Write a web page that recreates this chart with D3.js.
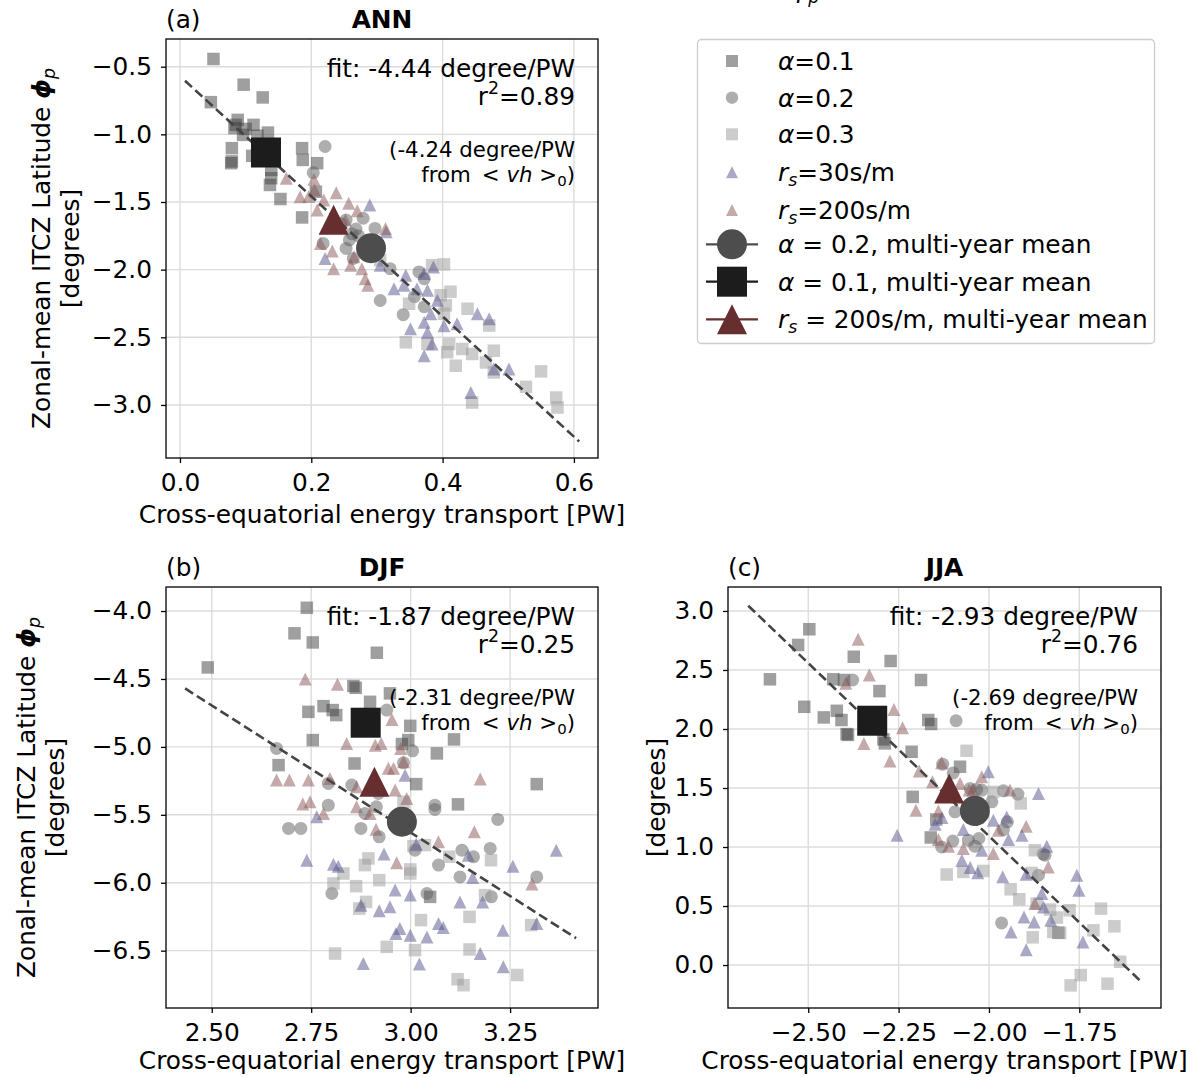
<!DOCTYPE html>
<html><head><meta charset="utf-8">
<script src="https://cdn.jsdelivr.net/npm/d3@7"></script>
<style>body{margin:0;background:#fff}</style>
</head><body>
<svg id="c" width="1200" height="1077" xmlns="http://www.w3.org/2000/svg"></svg>
<script>
// ---------------- DATA ----------------
// Panel (a) ANN
const annAlpha01 = [[0.051,-0.443],[0.097,-0.633],[0.126,-0.727],[0.047,-0.762],[0.088,-0.893],[0.083,-0.954],[0.085,-0.93],[0.112,-0.93],[0.134,-0.987],[0.096,-1.004],[0.079,-1.102],[0.078,-1.213],[0.079,-1.2],[0.11,-1.159],[0.139,-1.263],[0.137,-1.374],[0.139,-1.324],[0.153,-1.478],[0.186,-1.102],[0.187,-1.189],[0.209,-1.213],[0.207,-1.424],[0.186,-1.614],[0.1,-0.96],[0.118,-1.01]];
const annAlpha02 = [[0.221,-1.09],[0.203,-1.283],[0.253,-1.633],[0.279,-1.62],[0.297,-1.695],[0.258,-1.78],[0.253,-1.843],[0.264,-1.917],[0.218,-1.806],[0.272,-1.75],[0.262,-1.735],[0.32,-1.993],[0.364,-2.017],[0.305,-2.228],[0.34,-2.333],[0.357,-2.2],[0.372,-2.274],[0.372,-2.067],[0.245,-1.66],[0.268,-1.70]];
const annAlpha03 = [[0.305,-1.93],[0.384,-1.967],[0.402,-1.961],[0.412,-2.163],[0.397,-2.189],[0.405,-2.263],[0.349,-2.252],[0.438,-2.289],[0.471,-2.413],[0.402,-2.326],[0.344,-2.537],[0.377,-2.549],[0.41,-2.549],[0.407,-2.61],[0.43,-2.586],[0.445,-2.623],[0.478,-2.599],[0.466,-2.686],[0.478,-2.76],[0.42,-2.71],[0.55,-2.752],[0.527,-2.866],[0.573,-2.945],[0.575,-3.019],[0.445,-2.982]];
const annRs30 = [[0.289,-1.522],[0.314,-1.719],[0.221,-1.917],[0.305,-1.967],[0.344,-2.041],[0.372,-2.029],[0.386,-1.98],[0.326,-2.141],[0.341,-2.115],[0.361,-2.141],[0.377,-2.152],[0.392,-2.226],[0.382,-2.326],[0.372,-2.389],[0.351,-2.437],[0.377,-2.463],[0.422,-2.4],[0.453,-2.326],[0.471,-2.363],[0.384,-2.549],[0.372,-2.636],[0.478,-2.734],[0.501,-2.734],[0.443,-2.908],[0.402,-2.415]];
const annRs200 = [[0.162,-1.324],[0.204,-1.332],[0.183,-1.461],[0.205,-1.411],[0.238,-1.431],[0.219,-1.485],[0.209,-1.559],[0.257,-1.51],[0.27,-1.564],[0.252,-1.633],[0.313,-1.695],[0.214,-1.806],[0.232,-1.863],[0.265,-1.905],[0.26,-1.967],[0.234,-1.993],[0.277,-1.993],[0.282,-2.067],[0.286,-2.115],[0.196,-1.46]];
const annMeans = {a02:[0.291,-1.841], a01:[0.131,-1.135], r200:[0.234,-1.632]};
const annFit = {slope:-4.44, intercept:-0.57, xmin:0.0076, xmax:0.608, r2:'0.89', vh:'-4.24'};

// Panel (b) DJF
const djfAlpha01 = [[2.739,-3.976],[2.708,-4.164],[2.754,-4.231],[2.915,-4.307],[2.49,-4.415],[2.856,-4.552],[2.862,-4.565],[2.743,-4.742],[2.781,-4.70],[2.804,-4.729],[2.813,-4.766],[2.898,-4.668],[2.948,-4.606],[2.999,-4.845],[2.994,-4.95],[2.978,-4.979],[3.109,-4.945],[2.754,-4.95],[2.668,-5.134],[2.859,-5.122],[3.066,-5.048],[3.014,-5.274],[3.317,-5.274],[3.119,-5.423],[3.049,-6.104]];
const djfAlpha02 = [[2.94,-4.729],[3.005,-5.029],[2.663,-5.011],[2.982,-5.117],[2.793,-5.269],[2.852,-5.281],[2.919,-5.343],[2.793,-5.429],[2.914,-5.441],[2.885,-5.49],[3.061,-5.429],[3.061,-5.46],[2.693,-5.60],[2.724,-5.60],[2.875,-5.60],[2.921,-5.662],[3.219,-5.534],[3.011,-5.76],[3.07,-5.87],[3.129,-5.76],[3.158,-5.809],[3.20,-5.747],[3.124,-5.957],[3.317,-5.957],[2.802,-6.079],[3.041,-6.079],[3.203,-6.104]];
const djfAlpha03 = [[2.894,-5.821],[2.885,-5.87],[2.831,-5.932],[2.806,-6.005],[2.863,-6.025],[2.921,-5.981],[2.999,-5.902],[2.999,-5.932],[3.036,-5.723],[3.097,-5.809],[3.202,-5.834],[3.187,-6.091],[2.888,-6.141],[2.871,-6.19],[3.026,-6.275],[3.148,-6.251],[3.303,-6.312],[2.94,-6.472],[3.011,-6.496],[3.148,-6.491],[2.81,-6.521],[3.268,-6.68],[3.118,-6.71],[3.133,-6.754],[2.982,-5.404],[3.007,-5.73]];
const djfRs30 = [[2.986,-5.208],[2.764,-5.515],[2.739,-5.834],[2.806,-5.863],[2.818,-5.878],[2.933,-5.789],[3.014,-5.716],[3.145,-5.797],[3.156,-5.961],[3.257,-5.878],[3.366,-5.76],[2.961,-6.054],[2.999,-6.091],[2.875,-6.165],[2.921,-6.207],[2.948,-6.177],[3.124,-6.141],[3.181,-6.141],[2.973,-6.337],[2.963,-6.374],[2.999,-6.386],[3.041,-6.399],[3.07,-6.30],[3.082,-6.329],[3.232,-6.349],[3.317,-6.30],[3.175,-6.521],[2.881,-6.594],[3.022,-6.599],[3.233,-6.619]];
const djfRs200 = [[2.735,-4.501],[2.816,-4.538],[2.953,-4.798],[2.839,-4.975],[2.911,-4.987],[2.926,-4.975],[2.975,-5.011],[2.982,-5.11],[2.944,-5.158],[2.957,-5.158],[2.663,-5.244],[2.695,-5.244],[2.743,-5.244],[2.797,-5.232],[3.175,-5.237],[2.961,-5.318],[2.864,-5.294],[2.729,-5.421],[2.747,-5.404],[2.781,-5.49],[2.864,-5.441],[2.99,-5.379],[2.913,-5.607],[2.965,-5.853],[3.07,-5.699],[3.16,-5.625],[3.305,-6.01],[2.898,-5.49]];
const djfMeans = {a02:[2.978,-5.551], a01:[2.887,-4.822], r200:[2.909,-5.257]};
const djfFit = {slope:-1.87, intercept:-0.02, xmin:2.433, xmax:3.416, r2:'0.25', vh:'-2.31'};

// Panel (c) JJA
const jjaAlpha01 = [[-2.497,2.845],[-2.528,2.712],[-2.606,2.421],[-2.511,2.188],[-2.374,2.612],[-2.272,2.576],[-2.431,2.421],[-2.401,2.415],[-2.303,2.321],[-2.188,2.415],[-2.457,2.098],[-2.421,2.154],[-2.408,2.076],[-2.394,1.957],[-2.39,1.95],[-2.292,1.912],[-2.288,1.878],[-2.168,2.076],[-2.16,2.042],[-2.214,1.807],[-2.08,1.68],[-2.211,1.425],[-2.146,1.233],[-2.161,1.081],[-1.808,0.274]];
const jjaAlpha02 = [[-2.377,2.415],[-2.091,2.07],[-2.128,1.702],[-2.099,1.628],[-2.034,1.488],[-1.96,1.476],[-1.92,1.448],[-2.052,1.496],[-2.02,1.482],[-1.992,1.383],[-2.094,1.298],[-1.949,1.213],[-1.96,1.148],[-2.057,1.058],[-2.028,1.072],[-2.039,1.007],[-1.845,0.931],[-1.863,0.761],[-1.965,0.357],[-2.131,1.0],[-2.10,1.05],[-1.85,0.94]];
const jjaAlpha03 = [[-2.062,1.815],[-1.988,1.467],[-1.912,1.369],[-2.117,0.767],[-2.071,0.789],[-2.016,0.797],[-1.873,0.973],[-1.882,0.781],[-1.94,0.642],[-1.916,0.557],[-1.868,0.521],[-1.831,0.47],[-1.812,0.402],[-1.777,0.464],[-1.711,0.294],[-1.69,0.478],[-1.879,0.235],[-1.822,0.28],[-1.803,0.272],[-1.653,0.328],[-1.637,0.028],[-1.746,-0.085],[-1.774,-0.172],[-1.672,-0.158],[-2.03,1.25]];
const jjaRs30 = [[-2.002,1.637],[-1.863,1.454],[-2.254,1.10],[-2.149,1.193],[-2.071,1.148],[-1.988,1.227],[-1.951,1.255],[-1.946,1.064],[-1.909,1.10],[-2.02,0.973],[-2.075,0.888],[-2.052,0.826],[-2.031,0.781],[-1.962,0.747],[-1.897,0.77],[-1.84,1.007],[-1.757,0.761],[-1.751,0.634],[-1.854,0.606],[-1.849,0.492],[-1.903,0.407],[-1.875,0.365],[-1.829,0.379],[-1.939,0.28],[-1.897,0.13],[-1.74,0.195],[-2.13,1.25]];
const jjaRs200 = [[-2.362,2.76],[-2.331,2.457],[-2.396,2.387],[-2.263,2.166],[-2.239,2.01],[-2.346,1.878],[-2.274,1.728],[-2.193,1.645],[-2.131,1.713],[-2.055,1.482],[-2.02,1.595],[-1.942,1.482],[-2.156,1.552],[-2.202,1.312],[-2.14,1.306],[-2.08,1.539],[-2.045,1.482],[-2.14,1.064],[-2.112,1.007],[-2.071,0.988],[-1.988,0.945],[-1.974,1.142],[-1.897,1.176],[-1.836,0.831],[-1.873,0.521]];
const jjaMeans = {a02:[-2.039,1.306], a01:[-2.323,2.07], r200:[-2.11,1.496]};
const jjaFit = {slope:-2.93, intercept:-4.767, xmin:-2.666, xmax:-1.577, r2:'0.76', vh:'-2.69'};

// Tick labels
const annXTicks = [0.0, 0.2, 0.4, 0.6];
const annYTicks = [-0.5, -1.0, -1.5, -2.0, -2.5, -3.0];
const djfXTicks = [2.50, 2.75, 3.00, 3.25];
const djfYTicks = [-4.0, -4.5, -5.0, -5.5, -6.0, -6.5];
const jjaXTicks = [-2.50, -2.25, -2.00, -1.75];
const jjaYTicks = [0.0, 0.5, 1.0, 1.5, 2.0, 2.5, 3.0];

// ---------------- RENDER ----------------
const FONT = "'DejaVu Sans', sans-serif";
const FS = 24.8, FS_NOTE = 21.3;
const svg = d3.select('#c');

const groupStyle = {
  a01: {shape:'square', fill:'#404040', op:0.5, size:12.5},
  a02: {shape:'circle', fill:'#5e5e5e', op:0.5, size:13},
  a03: {shape:'square', fill:'#999999', op:0.5, size:12.5},
  r30: {shape:'tri', fill:'#53538d', op:0.5, size:13},
  r200:{shape:'tri', fill:'#895555', op:0.5, size:13}
};
const meanStyle = {
  a02: {shape:'circle', fill:'#4d4d4d', size:30},
  a01: {shape:'square', fill:'#1c1c1c', size:30},
  r200:{shape:'tri', fill:'#662e2e', size:30}
};

function markerPath(shape, x, y, s) {
  const h = s/2;
  if (shape === 'square') return `M${x-h},${y-h}h${s}v${s}h${-s}Z`;
  if (shape === 'tri') return `M${x},${y-h}L${x+h},${y+h}L${x-h},${y+h}Z`;
  return `M${x-h},${y}a${h},${h} 0 1,0 ${s},0a${h},${h} 0 1,0 ${-s},0Z`;
}

function drawPanel(cfg) {
  const [x0, x1, y0, y1] = cfg.box;
  const x = d3.scaleLinear().domain(cfg.xd).range([x0, x1]);
  const y = d3.scaleLinear().domain(cfg.yd).range([y1, y0]);
  const g = svg.append('g');

  // grid
  g.append('g').selectAll('line').data(cfg.xt).join('line')
    .attr('x1', d => x(d)).attr('x2', d => x(d)).attr('y1', y0).attr('y2', y1)
    .attr('stroke', '#dcdcdc').attr('stroke-width', 1.4);
  g.append('g').selectAll('line').data(cfg.yt).join('line')
    .attr('y1', d => y(d)).attr('y2', d => y(d)).attr('x1', x0).attr('x2', x1)
    .attr('stroke', '#dcdcdc').attr('stroke-width', 1.4);

  // clip
  const clipId = 'clip' + cfg.id;
  svg.append('clipPath').attr('id', clipId).append('rect')
    .attr('x', x0).attr('y', y0).attr('width', x1-x0).attr('height', y1-y0);
  const plot = g.append('g').attr('clip-path', `url(#${clipId})`);

  // scatter groups
  ['a01','a02','a03','r30','r200'].forEach(k => {
    const st = groupStyle[k];
    plot.append('g').selectAll('path').data(cfg.groups[k]).join('path')
      .attr('d', d => markerPath(st.shape, x(d[0]), y(d[1]), st.size))
      .attr('fill', st.fill).attr('fill-opacity', st.op);
  });

  // fit line
  const f = cfg.fit;
  plot.append('line')
    .attr('x1', x(f.xmin)).attr('y1', y(f.intercept + f.slope*f.xmin))
    .attr('x2', x(f.xmax)).attr('y2', y(f.intercept + f.slope*f.xmax))
    .attr('stroke', '#444').attr('stroke-width', 2.6).attr('stroke-dasharray', '9.5,4.5');

  // means
  ['a02','a01','r200'].forEach(k => {
    const st = meanStyle[k], m = cfg.means[k];
    plot.append('path').attr('d', markerPath(st.shape, x(m[0]), y(m[1]), st.size)).attr('fill', st.fill);
  });

  // frame
  g.append('rect').attr('x', x0).attr('y', y0).attr('width', x1-x0).attr('height', y1-y0)
    .attr('fill', 'none').attr('stroke', '#000').attr('stroke-width', 1.3);

  // axes
  const ax = g.append('g').attr('transform', `translate(0,${y1})`)
    .call(d3.axisBottom(x).tickValues(cfg.xt).tickFormat(d3.format(cfg.xf)).tickSize(5).tickSizeOuter(0).tickPadding(10));
  const ay = g.append('g').attr('transform', `translate(${x0},0)`)
    .call(d3.axisLeft(y).tickValues(cfg.yt).tickFormat(d3.format(cfg.yf)).tickSize(5).tickSizeOuter(0).tickPadding(9));
  [ax, ay].forEach(a => {
    a.select('.domain').remove();
    a.selectAll('line').attr('stroke', '#000').attr('stroke-width', 1.3);
    a.selectAll('text').attr('font-family', FONT).attr('font-size', FS).attr('fill', '#000');
  });

  // x label
  g.append('text').attr('x', (x0+x1)/2).attr('y', y1 + cfg.xlabOff).attr('text-anchor', 'middle')
    .attr('font-family', FONT).attr('font-size', FS).text('Cross-equatorial energy transport [PW]');

  // titles
  g.append('text').attr('x', x0).attr('y', y0 - 11).attr('font-family', FONT).attr('font-size', FS).text(cfg.label);
  g.append('text').attr('x', (x0+x1)/2).attr('y', y0 - 11).attr('text-anchor', 'middle')
    .attr('font-family', FONT).attr('font-size', FS).attr('font-weight', 'bold').text(cfg.title);

  // y labels
  const cy = (y0 + y1)/2;
  cfg.ylab.forEach(([bx, lines]) => {
    const t = g.append('text').attr('transform', `translate(${bx},${cy}) rotate(-90)`)
      .attr('text-anchor', 'middle').attr('font-family', FONT).attr('font-size', FS);
    if (lines === 'main') {
      t.append('tspan').text('Zonal-mean ITCZ Latitude ');
      t.append('tspan').attr('font-style', 'italic').attr('font-weight', 'bold').text('\u03D5');
      t.append('tspan').attr('font-style', 'italic').attr('font-size', FS*0.7).attr('dy', '0.3em').text('p');
    } else {
      t.text('[degrees]');
    }
  });

  // fit text
  const rx = x1 - 23;
  g.append('text').attr('x', rx).attr('y', y0 + 38).attr('text-anchor', 'end')
    .attr('font-family', FONT).attr('font-size', FS).text(`fit: ${f.slope.toFixed(2)} degree/PW`);
  const r2 = g.append('text').attr('x', rx).attr('y', y0 + 66).attr('text-anchor', 'end')
    .attr('font-family', FONT).attr('font-size', FS);
  r2.append('tspan').text('r');
  r2.append('tspan').attr('font-size', FS*0.7).attr('dy', '-0.62em').text('2');
  r2.append('tspan').attr('dy', '0.435em').text('=' + f.r2);

  g.append('text').attr('x', rx).attr('y', y0 + 118).attr('text-anchor', 'end')
    .attr('font-family', FONT).attr('font-size', FS_NOTE).text(`(${f.vh} degree/PW`);
  const fr = g.append('text').attr('x', rx).attr('y', y0 + 143).attr('text-anchor', 'end')
    .attr('font-family', FONT).attr('font-size', FS_NOTE).attr('xml:space', 'preserve');
  fr.append('tspan').text('from \u2009< ');
  fr.append('tspan').attr('font-style', 'italic').text('vh');
  fr.append('tspan').text(' >');
  fr.append('tspan').attr('font-size', FS_NOTE*0.7).attr('dy', '0.3em').text('0');
  fr.append('tspan').attr('dy', '-0.21em').text(')');
}

drawPanel({id:'a', label:'(a)', title:'ANN', box:[166,598,39,458], xd:[-0.0213,0.6367], yd:[-3.392,-0.2953],
  xt:annXTicks, yt:annYTicks, xf:'.1f', yf:'.1f', xlabOff:65,
  groups:{a01:annAlpha01, a02:annAlpha02, a03:annAlpha03, r30:annRs30, r200:annRs200},
  means:annMeans, fit:annFit, ylab:[[50,'main'],[79,'deg']]});
drawPanel({id:'b', label:'(b)', title:'DJF', box:[166,598,587,1008], xd:[2.385,3.471], yd:[-6.922,-3.823],
  xt:djfXTicks, yt:djfYTicks, xf:'.2f', yf:'.1f', xlabOff:61,
  groups:{a01:djfAlpha01, a02:djfAlpha02, a03:djfAlpha03, r30:djfRs30, r200:djfRs200},
  means:djfMeans, fit:djfFit, ylab:[[35,'main'],[64,'deg']]});
drawPanel({id:'c', label:'(c)', title:'JJA', box:[728,1161,587,1008], xd:[-2.722,-1.524], yd:[-0.364,3.203],
  xt:jjaXTicks, yt:jjaYTicks, xf:'.2f', yf:'.1f', xlabOff:61,
  groups:{a01:jjaAlpha01, a02:jjaAlpha02, a03:jjaAlpha03, r30:jjaRs30, r200:jjaRs200},
  means:jjaMeans, fit:jjaFit, ylab:[[665,'deg']]});

// clipped super title fragment at top
const sup = svg.append('text').attr('x', 792).attr('y', -2).attr('font-family', FONT).attr('font-size', FS);
sup.append('tspan').attr('font-style', 'italic').text('\u03D5');
sup.append('tspan').attr('font-style', 'italic').attr('font-size', FS*0.7).attr('dy', '0.3em').text('p');

// ---------------- LEGEND ----------------
const lg = svg.append('g');
lg.append('rect').attr('x', 697.5).attr('y', 39.5).attr('width', 457).attr('height', 304).attr('rx', 4)
  .attr('fill', '#fff').attr('fill-opacity', 0.8).attr('stroke', '#cccccc').attr('stroke-width', 1.3);
const legendRows = [
  {key:'a01', mean:false, cy:61, parts:[['\u03B1','i'],['=0.1','']]},
  {key:'a02', mean:false, cy:97.7, parts:[['\u03B1','i'],['=0.2','']]},
  {key:'a03', mean:false, cy:134.3, parts:[['\u03B1','i'],['=0.3','']]},
  {key:'r30', mean:false, cy:172.3, parts:[['r','i'],['s','is'],['=30s/m','u']]},
  {key:'r200', mean:false, cy:210, parts:[['r','i'],['s','is'],['=200s/m','u']]},
  {key:'a02', mean:true, cy:244.3, parts:[['\u03B1','i'],[' = 0.2, multi-year mean','']]},
  {key:'a01', mean:true, cy:281.7, parts:[['\u03B1','i'],[' = 0.1, multi-year mean','']]},
  {key:'r200', mean:true, cy:319.3, parts:[['r','i'],['s','is'],[' = 200s/m, multi-year mean','u']]}
];
const smallLegend = {a01:{shape:'square', fill:'#404040', op:0.5, size:12}, a02:{shape:'circle', fill:'#5e5e5e', op:0.5, size:12.5},
  a03:{shape:'square', fill:'#999999', op:0.5, size:12}, r30:{shape:'tri', fill:'#53538d', op:0.5, size:12}, r200:{shape:'tri', fill:'#895555', op:0.5, size:12}};
legendRows.forEach(r => {
  if (r.mean) {
    const st = meanStyle[r.key];
    lg.append('line').attr('x1', 706).attr('x2', 758).attr('y1', r.cy).attr('y2', r.cy).attr('stroke', st.fill).attr('stroke-width', 2.2);
    lg.append('path').attr('d', markerPath(st.shape, 732, r.cy, st.size)).attr('fill', st.fill);
  } else {
    const st = smallLegend[r.key];
    lg.append('path').attr('d', markerPath(st.shape, 732, r.cy, st.size)).attr('fill', st.fill).attr('fill-opacity', st.op);
  }
  const t = lg.append('text').attr('x', 778).attr('y', r.cy + 8.8).attr('font-family', FONT).attr('font-size', FS).attr('xml:space', 'preserve');
  r.parts.forEach(([s, k]) => {
    const sp = t.append('tspan').text(s);
    if (k === 'i') sp.attr('font-style', 'italic');
    if (k === 'is') sp.attr('font-style', 'italic').attr('font-size', FS*0.7).attr('dy', '0.3em');
    if (k === 'u') sp.attr('dy', '-0.21em');
  });
});
</script>
</body></html>
